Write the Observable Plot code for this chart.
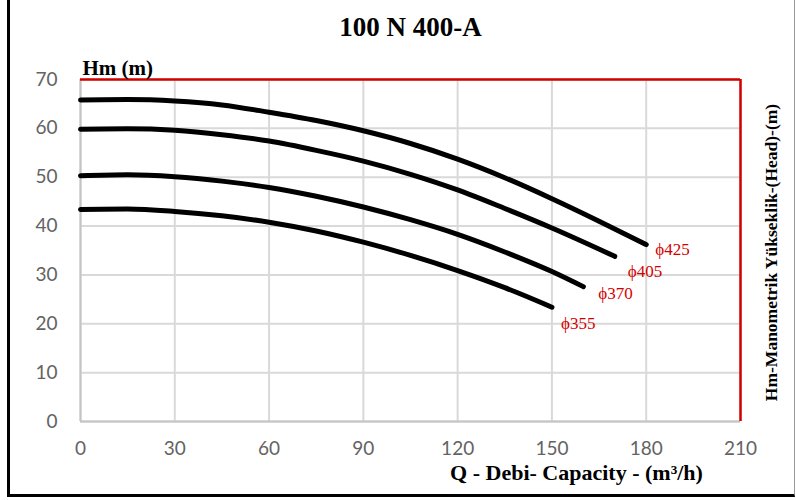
<!DOCTYPE html>
<html>
<head>
<meta charset="utf-8">
<script src="https://cdn.jsdelivr.net/npm/d3@7"></script>
<script src="https://cdn.jsdelivr.net/npm/@observablehq/plot@0.6"></script>
<style>
  html, body { margin: 0; padding: 0; background: #fff; }
  #wrap { position: relative; width: 796px; height: 500px; overflow: hidden; }
  #border { position: absolute; left: 7px; top: -4px; width: 784px; height: 498px;
            border-left: 3px solid #000; border-bottom: 3px solid #000; border-right: 1px solid #999;
            pointer-events: none; }
  #chart svg { display: block; }
</style>
</head>
<body>
<div id="wrap"><div id="chart"></div><div id="border"></div></div>
<script>
// Ticks
const xTicks = [0, 30, 60, 90, 120, 150, 180, 210];
const yTicks = [0, 10, 20, 30, 40, 50, 60, 70];

// Impeller diameters (labels)
const diameters = ["ϕ425", "ϕ405", "ϕ370", "ϕ355"];

// Q (m³/h) and H (m) per curve
const q425 = [0, 15, 30, 45, 60, 75, 90, 105, 120, 135, 150, 165, 180];
const h425 = [65.8, 65.9, 65.6, 64.8, 63.3, 61.6, 59.5, 56.9, 53.7, 49.9, 45.6, 41.0, 36.2];

const q405 = [0, 15, 30, 45, 60, 75, 90, 105, 120, 135, 150, 170];
const h405 = [59.8, 59.9, 59.6, 58.7, 57.4, 55.5, 53.3, 50.6, 47.4, 43.6, 39.6, 33.8];

const q370 = [0, 15, 30, 45, 60, 75, 90, 105, 120, 135, 150, 160];
const h370 = [50.3, 50.5, 50.1, 49.2, 47.9, 46.1, 43.9, 41.3, 38.3, 34.7, 30.7, 27.6];

const q355 = [0, 15, 30, 45, 60, 75, 90, 105, 120, 135, 150];
const h355 = [43.4, 43.5, 43.0, 42.1, 40.8, 39.0, 36.7, 34.0, 30.9, 27.4, 23.4];

const title = "100 N 400-A";
const yTitle = "Hm (m)";
const xTitle = "Q - Debi- Capacity - (m³/h)";
const rightTitle = "Hm-Manometrik Yükseklik-(Head)-(m)";

const series = [[q425, h425], [q405, h405], [q370, h370], [q355, h355]];
const table = series.flatMap(([qs, hs], i) => qs.map((q, j) => ({d: diameters[i], q, h: hs[j]})));

const red = "#d40000";
const serif = "'Liberation Serif', 'Times New Roman', serif";
const sans = "Lato, 'Open Sans', sans-serif";
const labelOffsets = [[9, 5], [13, 15], [15, 7], [9, 16]];

const chart = Plot.plot({
  width: 796,
  height: 500,
  marginLeft: 80,
  marginRight: 56,
  marginTop: 79,
  marginBottom: 79,
  x: {domain: [0, 210]},
  y: {domain: [0, 70]},
  style: {background: "transparent", fontFamily: sans},
  marks: [
    Plot.gridX(xTicks, {stroke: "#d9d9d9", strokeOpacity: 1, strokeWidth: 2}),
    Plot.gridY(yTicks, {stroke: "#d9d9d9", strokeOpacity: 1, strokeWidth: 2}),
    Plot.ruleY([0], {stroke: "#c4c4c4", strokeWidth: 2}),
    Plot.ruleX([0], {stroke: "#c4c4c4", strokeWidth: 2}),
    Plot.ruleY([70], {stroke: red, strokeWidth: 2.5}),
    Plot.ruleX([210], {stroke: red, strokeWidth: 2.5}),
    Plot.axisX(xTicks, {tickSize: 0, tickPadding: 20, fontSize: 19, fontFamily: sans, fill: "#636363", label: null}),
    Plot.axisY(yTicks, {tickSize: 0, tickPadding: 23, fontSize: 19, fontFamily: sans, fill: "#636363", label: null}),
    Plot.line(table, {x: "q", y: "h", z: "d", stroke: "#000", strokeWidth: 5, curve: "monotone-x", strokeLinecap: "round"}),
    ...diameters.map((dname, i) => Plot.text(table.filter(r => r.d === dname), Plot.selectLast({
      x: "q", y: "h", text: "d", fill: red, fontSize: 17, fontFamily: serif,
      textAnchor: "start", dx: labelOffsets[i][0], dy: labelOffsets[i][1]
    }))),
    Plot.text([title], {frameAnchor: "top", lineAnchor: "middle", dy: -52, fontSize: 27, fontWeight: "bold", fontFamily: serif, fill: "#000"}),
    Plot.text([yTitle], {frameAnchor: "top-left", textAnchor: "start", lineAnchor: "middle", dx: 2, dy: -11, fontSize: 21, fontWeight: "bold", fontFamily: serif, fill: "#000"}),
    Plot.text([xTitle], {frameAnchor: "bottom", lineAnchor: "middle", dx: 166, dy: 51, fontSize: 22, fontWeight: "bold", fontFamily: serif, fill: "#000"}),
    Plot.text([rightTitle], {frameAnchor: "right", textAnchor: "middle", lineAnchor: "middle", rotate: -90, dx: 31, dy: 2, fontSize: 17.5, fontWeight: "bold", fontFamily: serif, fill: "#000"})
  ]
});
document.getElementById("chart").append(chart);
</script>
</body>
</html>
